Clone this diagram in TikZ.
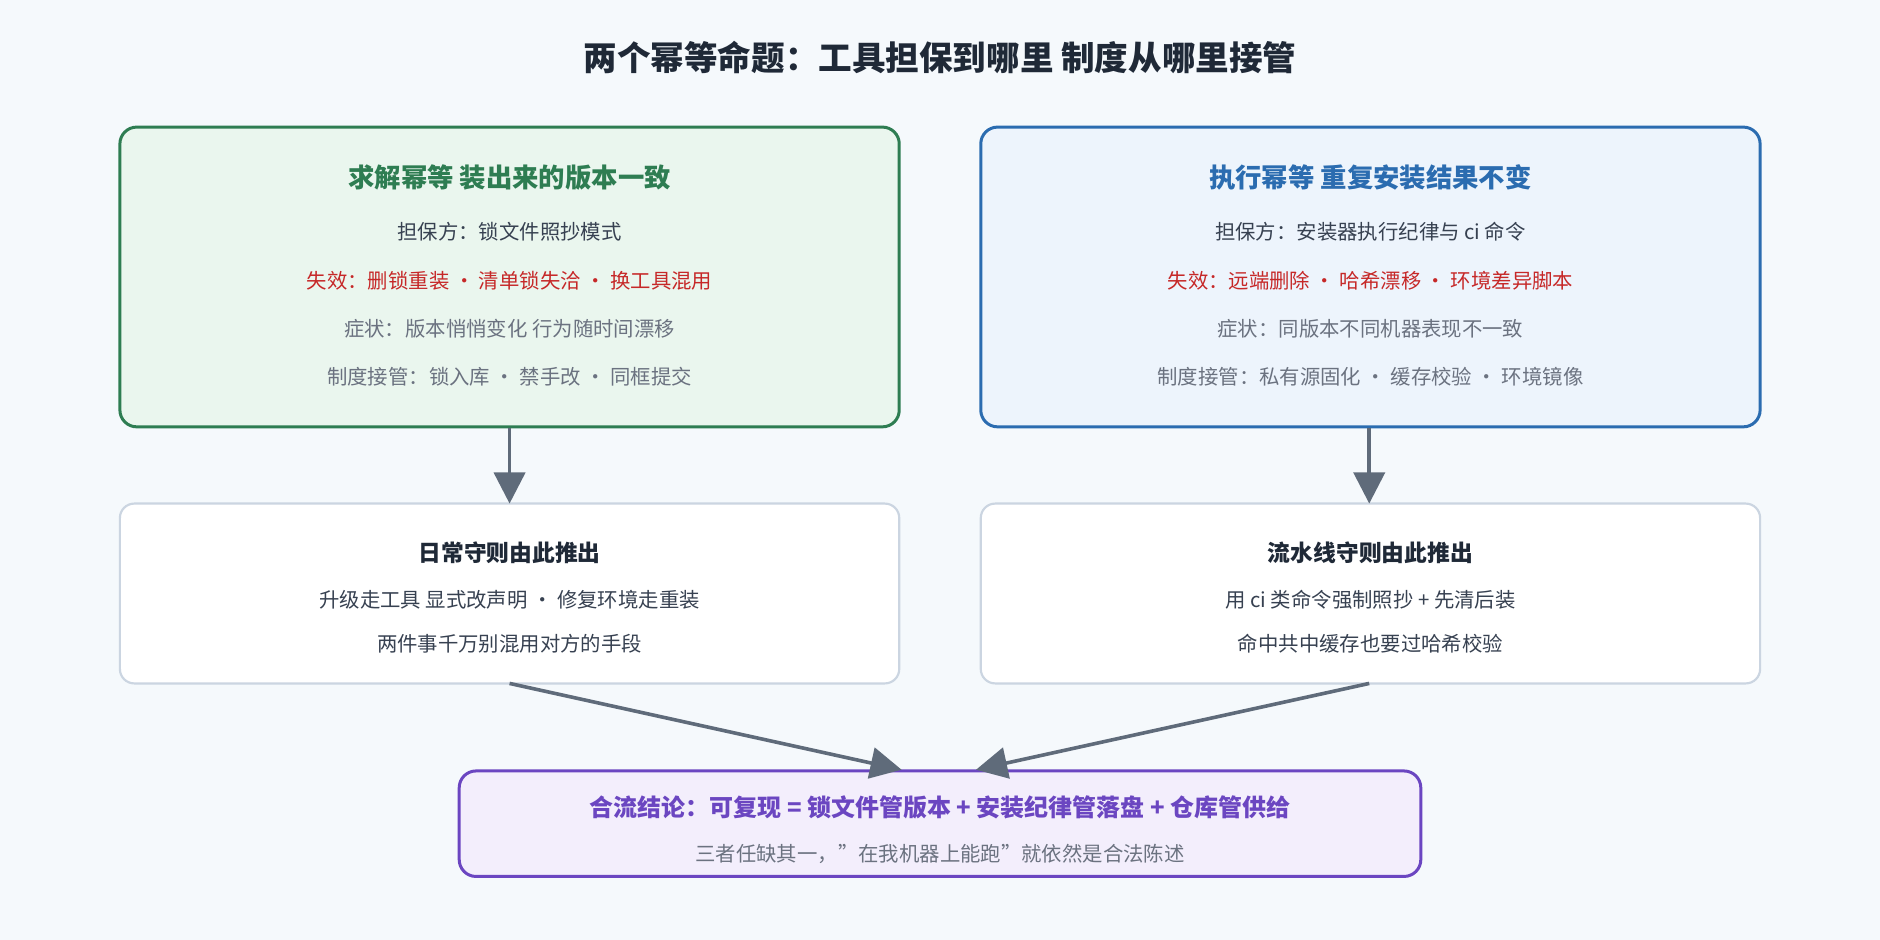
\documentclass[tikz,border=0pt]{standalone}
\usepackage{fontspec}
\setmainfont{Noto Sans CJK SC}
\usetikzlibrary{arrows.meta}
\definecolor{bg}{HTML}{F5F9FC}
\definecolor{dark}{HTML}{1F2937}
\definecolor{body}{HTML}{374151}
\definecolor{mute}{HTML}{6B7280}
\definecolor{redt}{HTML}{C62828}
\definecolor{gb}{HTML}{2E7D52}
\definecolor{gf}{HTML}{EAF6EE}
\definecolor{bb}{HTML}{2B6CB0}
\definecolor{bf}{HTML}{EDF4FC}
\definecolor{pb}{HTML}{6B46C1}
\definecolor{pf}{HTML}{F3EEFC}
\definecolor{mb}{HTML}{CBD5E1}
\definecolor{ar}{HTML}{5F6B7A}
\begin{document}
\begin{tikzpicture}[x=1pt,y=-1pt,
 box/.style={draw,rounded corners=14pt,line width=2.5pt},
 mid/.style={draw=mb,fill=white,rounded corners=12pt,line width=1.8pt},
 t/.style={font=\fontsize{17}{20}\selectfont,anchor=center,inner sep=0},
 hd/.style={font=\fontsize{22}{26}\selectfont\bfseries,anchor=center,inner sep=0},
 arr/.style={draw=ar,line width=3pt,-{Triangle[length=26pt,width=26pt]}}]
\fill[bg] (0,0) rectangle (1568,784);
\useasboundingbox (0,0) rectangle (1568,784);
\node[font=\fontsize{28}{32}\selectfont\bfseries,text=dark] (title) at (784,48) {两个幂等命题：工具担保到哪里 制度从哪里接管};
\draw[box,draw=gb,fill=gf] (100,106) rectangle (750,356);
\node (L) at (425,231) {};
\node[hd,text=gb] (l1) at (425,148) {求解幂等 装出来的版本一致};
\node[t,text=body] (l2) at (425,193) {担保方：锁文件照抄模式};
\node[t,text=redt] (l3) at (425,234) {失效：删锁重装 · 清单锁失洽 · 换工具混用};
\node[t,text=mute] (l4) at (425,274) {症状：版本悄悄变化 行为随时间漂移};
\node[t,text=mute] (l5) at (425,314) {制度接管：锁入库 · 禁手改 · 同框提交};
\draw[box,draw=bb,fill=bf] (818,106) rectangle (1468,356);
\node[hd,text=bb] (r1) at (1143,148) {执行幂等 重复安装结果不变};
\node[t,text=body] (r2) at (1143,193) {担保方：安装器执行纪律与 ci 命令};
\node[t,text=redt] (r3) at (1143,234) {失效：远端删除 · 哈希漂移 · 环境差异脚本};
\node[t,text=mute] (r4) at (1143,274) {症状：同版本不同机器表现不一致};
\node[t,text=mute] (r5) at (1143,314) {制度接管：私有源固化 · 缓存校验 · 环境镜像};
\draw[mid] (100,420) rectangle (750,570);
\node[t,font=\fontsize{19}{22}\selectfont\bfseries,text=dark] (m1) at (425,461) {日常守则由此推出};
\node[t,text=body] (m2) at (425,500) {升级走工具 显式改声明 · 修复环境走重装};
\node[t,text=body] (m3) at (425,537) {两件事千万别混用对方的手段};
\draw[mid] (818,420) rectangle (1468,570);
\node[t,font=\fontsize{19}{22}\selectfont\bfseries,text=dark] (n1) at (1143,461) {流水线守则由此推出};
\node[t,text=body] (n2) at (1143,500) {用 ci 类命令强制照抄 + 先清后装};
\node[t,text=body] (n3) at (1143,537) {命中共中缓存也要过哈希校验};
\draw[box,draw=pb,fill=pf] (383,643) rectangle (1185,731);
\node[t,font=\fontsize{20}{24}\selectfont\bfseries,text=pb] (b1) at (784,673) {合流结论：可复现 = 锁文件管版本 + 安装纪律管落盘 + 仓库管供给};
\node[t,text=mute] (b2) at (784,712) {三者任缺其一，"在我机器上能跑"就依然是合法陈述};
\coordinate (a1) at (425,357); \coordinate (a1e) at (425,420);
\coordinate (a2) at (1142,357); \coordinate (a2e) at (1142,420);
\coordinate (a3) at (425,570); \coordinate (a3e) at (752,642);
\coordinate (a4) at (1142,570); \coordinate (a4e) at (814,642);
\draw[arr] (a1)--(a1e);
\draw[arr] (a2)--(a2e);
\draw[arr] (a3)--(a3e);
\draw[arr] (a4)--(a4e);
\end{tikzpicture}
\end{document}
